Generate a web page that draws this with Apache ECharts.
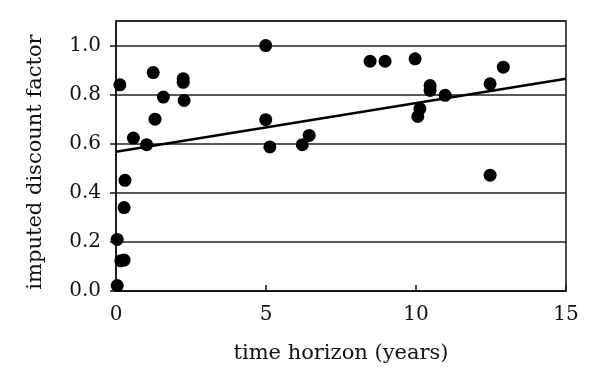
<!DOCTYPE html>
<html>
<head>
<meta charset="utf-8">
<script src="https://cdn.jsdelivr.net/npm/echarts@6/dist/echarts.min.js"></script>
<style>
  html, body { margin: 0; padding: 0; background: #fff; }
  #chart { width: 590px; height: 378px; }
</style>
</head>
<body>
<div id="chart"></div>
<script>
// observed points: time horizon (years) and imputed discount factor
const horizonYears = [0.13, 1.24, 1.58, 2.24, 2.24, 2.27, 1.3, 0.58, 1.02, 4.99, 4.99, 5.13, 6.21, 6.44,
  8.47, 8.97, 9.97, 10.47, 10.47, 10.97, 10.13, 10.06, 12.47, 12.91, 12.47,
  0.3, 0.27, 0.04, 0.16, 0.27, 0.04];
const discountFactor = [0.84, 0.89, 0.79, 0.865, 0.85, 0.776, 0.70, 0.623, 0.596, 1.0, 0.698, 0.587, 0.596, 0.634,
  0.936, 0.936, 0.946, 0.837, 0.817, 0.797, 0.743, 0.711, 0.844, 0.912, 0.472,
  0.451, 0.34, 0.21, 0.123, 0.126, 0.022];

// fitted trend line
const trendX = [0, 15];
const trendY = [0.567, 0.865];

const xTicks = [0, 5, 10, 15];

const font = 'DejaVu Serif';

const chart = echarts.init(document.getElementById('chart'));

const option = {
  animation: false,
  backgroundColor: '#fff',
  grid: {
    left: 116,
    right: 24,
    top: 21,
    bottom: 87,
    show: true,
    borderColor: '#111',
    borderWidth: 1.5,
    backgroundColor: 'transparent'
  },
  xAxis: {
    type: 'value',
    min: 0,
    max: 15,
    interval: 5,
    name: 'time horizon (years)',
    nameLocation: 'middle',
    nameGap: 52,
    nameTextStyle: { fontFamily: font, fontSize: 21, color: '#111' },
    axisLine: { show: true, lineStyle: { color: '#111', width: 1.5 } },
    axisTick: { show: true, inside: true, length: 6, lineStyle: { color: '#111', width: 1.5 } },
    axisLabel: {
      fontFamily: font, fontSize: 20, color: '#111', margin: 14,
      formatter: v => xTicks.includes(v) ? String(v) : ''
    },
    splitLine: { show: false }
  },
  yAxis: {
    type: 'value',
    min: 0,
    max: 1.1,
    interval: 0.2,
    name: 'imputed discount factor',
    nameLocation: 'middle',
    nameGap: 70,
    nameTextStyle: { fontFamily: font, fontSize: 21, color: '#111', padding: [0, 0, 0, -12] },
    axisLine: { show: true, lineStyle: { color: '#111', width: 1.5 } },
    axisTick: { show: true, length: 6, lineStyle: { color: '#111', width: 1.5 } },
    axisLabel: {
      fontFamily: font, fontSize: 20, color: '#111', margin: 15,
      showMaxLabel: false,
      formatter: v => v.toFixed(1)
    },
    splitLine: { show: true, lineStyle: { color: '#222', width: 1.5 } }
  },
  series: [
    {
      type: 'line',
      data: trendX.map((x, i) => [x, trendY[i]]),
      symbol: 'none',
      lineStyle: { color: '#000', width: 2.5 },
      z: 3
    },
    {
      type: 'scatter',
      data: horizonYears.map((x, i) => [x, discountFactor[i]]),
      symbolSize: 13,
      itemStyle: { color: '#000', opacity: 1 },
      z: 4
    }
  ]
};

chart.setOption(option);
</script>
</body>
</html>
